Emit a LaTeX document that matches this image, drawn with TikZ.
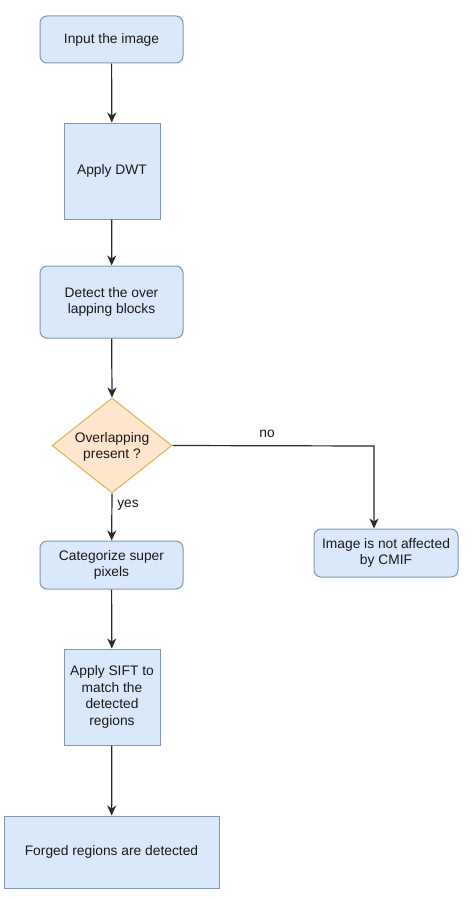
\documentclass[tikz,border=0pt]{standalone}
\usepackage{fontspec}
\setmainfont{Liberation Sans}
\usetikzlibrary{shapes.geometric,arrows.meta}
\definecolor{bfill}{HTML}{DAE8FC}
\definecolor{bdraw}{HTML}{8596AC}
\definecolor{dfill}{HTML}{FFE6CC}
\definecolor{ddraw}{HTML}{D6B656}
\definecolor{lin}{HTML}{2B2B2B}
\begin{document}
\begin{tikzpicture}[x=1pt,y=-1pt,
  font=\fontsize{13.8}{16.5}\selectfont,
  box/.style={draw=bdraw,fill=bfill,line width=1pt,align=center,inner sep=2pt,text=black!90},
  rbox/.style={box,rounded corners=7pt},
  dec/.style={diamond,draw=ddraw,fill=dfill,line width=1pt,align=center,inner sep=0pt,text=black!90},
  arr/.style={draw=lin,line width=1.2pt,-{Stealth[length=10pt,width=9pt,inset=3pt]}},
  lbl/.style={text=black!90}]
\fill[white] (0,0) rectangle (474,899);
\useasboundingbox (0,0) rectangle (474,899);
\node[rbox,minimum width=143pt,minimum height=47pt] (input) at (111.5,39.5) {Input the image};
\node[box,minimum width=96pt,minimum height=96pt] (dwt) at (112,171) {Apply DWT};
\node[rbox,minimum width=143pt,minimum height=72pt] (detect) at (111.5,302) {Detect the over\\lapping blocks};
\node[dec,minimum width=120pt,minimum height=95pt] (ovl) at (112,445.5) {};
\node[text=black!90,align=center] at (112,447) {Overlapping\\present ?};
\node[rbox,minimum width=144pt,minimum height=48pt] (nota) at (386,553) {Image is not affected\\by CMIF};
\node[rbox,minimum width=143pt,minimum height=48pt] (cat) at (111.5,565) {Categorize super\\pixels};
\node[box,minimum width=96pt,minimum height=96pt] (sift) at (112,697) {Apply SIFT to\\match the\\detected\\regions};
\node[box,minimum width=215pt,minimum height=72pt] (forged) at (111.5,852) {Forged regions are detected};
\coordinate (corner) at (374,446);
\draw[arr] (input) -- (dwt);
\draw[arr] (dwt) -- (detect);
\draw[arr] (detect) -- (ovl.north);
\draw[arr] (ovl.east) -- (corner) -- (nota.north -| corner);
\node[lbl] (no) at (267,434) {no};
\draw[arr] (ovl.south) -- (cat);
\node[lbl] (yes) at (128,505) {yes};
\draw[arr] (cat) -- (sift);
\draw[arr] (sift) -- (forged);
\end{tikzpicture}
\end{document}
